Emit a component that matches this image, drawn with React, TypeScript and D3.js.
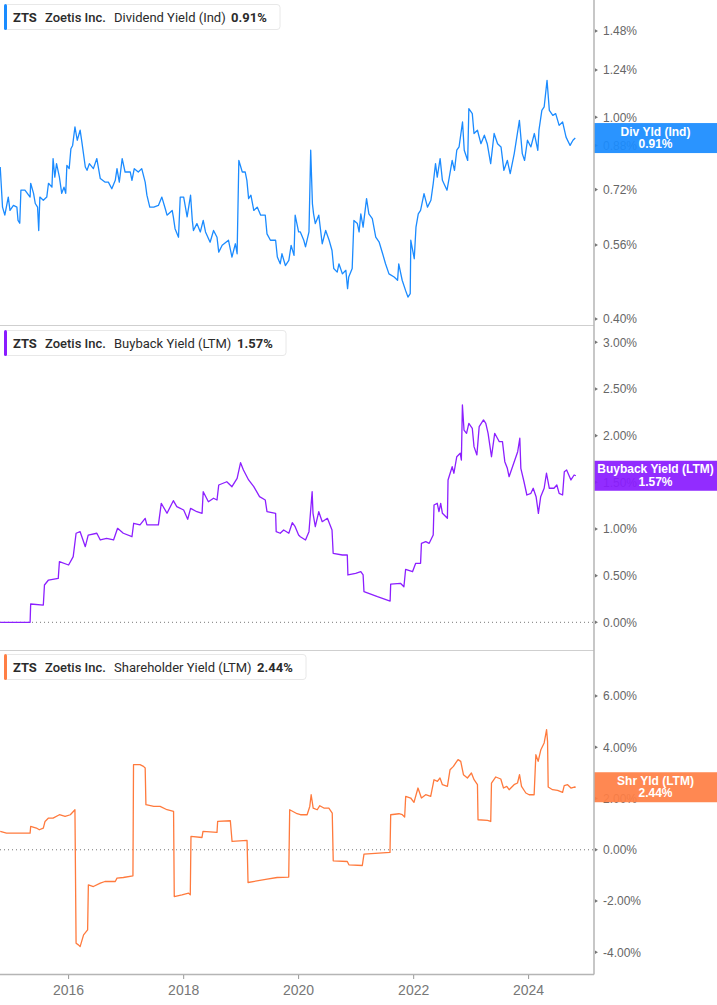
import React, { useEffect } from 'react';
import * as d3 from 'd3';

const W = 717;
const H = 1005;

// ---- data (decimal year, value in %) ----
const divData: [number, number][] = [
[2014.81,0.798],[2014.85,0.665],[2014.89,0.641],[2014.95,0.696],[2014.98,0.655],[2015.04,0.670],[2015.10,0.665],[2015.12,0.626],[2015.15,0.618],[2015.17,0.718],[2015.24,0.718],[2015.33,0.696],[2015.34,0.741],[2015.39,0.708],[2015.42,0.676],[2015.46,0.665],[2015.48,0.598],[2015.50,0.696],[2015.56,0.686],[2015.62,0.696],[2015.65,0.741],[2015.71,0.728],[2015.73,0.829],[2015.76,0.762],[2015.79,0.810],[2015.84,0.762],[2015.88,0.708],[2015.92,0.728],[2015.95,0.708],[2015.97,0.804],[2016.01,0.792],[2016.04,0.867],[2016.07,0.880],[2016.11,0.957],[2016.15,0.901],[2016.20,0.943],[2016.23,0.894],[2016.29,0.798],[2016.32,0.786],[2016.36,0.810],[2016.43,0.792],[2016.49,0.829],[2016.55,0.757],[2016.63,0.745],[2016.69,0.745],[2016.75,0.723],[2016.81,0.751],[2016.84,0.792],[2016.88,0.745],[2016.93,0.829],[2016.98,0.780],[2017.07,0.780],[2017.10,0.751],[2017.14,0.792],[2017.21,0.780],[2017.27,0.792],[2017.33,0.745],[2017.36,0.702],[2017.41,0.665],[2017.48,0.665],[2017.56,0.670],[2017.62,0.696],[2017.68,0.660],[2017.71,0.641],[2017.80,0.655],[2017.82,0.636],[2017.85,0.603],[2017.91,0.580],[2017.94,0.696],[2018.00,0.696],[2018.06,0.636],[2018.12,0.702],[2018.15,0.626],[2018.17,0.598],[2018.23,0.617],[2018.29,0.594],[2018.34,0.626],[2018.38,0.594],[2018.46,0.567],[2018.52,0.598],[2018.58,0.580],[2018.61,0.542],[2018.67,0.559],[2018.78,0.572],[2018.84,0.530],[2018.90,0.563],[2018.93,0.538],[2018.96,0.822],[2019.02,0.780],[2019.07,0.780],[2019.10,0.751],[2019.13,0.691],[2019.17,0.702],[2019.22,0.655],[2019.28,0.665],[2019.34,0.641],[2019.42,0.641],[2019.45,0.589],[2019.51,0.572],[2019.60,0.572],[2019.63,0.530],[2019.68,0.514],[2019.71,0.538],[2019.77,0.510],[2019.83,0.522],[2019.87,0.559],[2019.92,0.534],[2019.94,0.641],[2020.00,0.594],[2020.03,0.594],[2020.09,0.572],[2020.12,0.555],[2020.18,0.594],[2020.21,0.861],[2020.24,0.675],[2020.26,0.645],[2020.29,0.617],[2020.35,0.641],[2020.41,0.563],[2020.47,0.598],[2020.53,0.572],[2020.58,0.546],[2020.61,0.503],[2020.67,0.495],[2020.70,0.514],[2020.76,0.491],[2020.82,0.499],[2020.85,0.459],[2020.87,0.484],[2020.93,0.503],[2020.96,0.626],[2021.02,0.617],[2021.05,0.594],[2021.08,0.645],[2021.12,0.607],[2021.18,0.691],[2021.22,0.645],[2021.28,0.631],[2021.34,0.580],[2021.40,0.567],[2021.46,0.538],[2021.51,0.514],[2021.57,0.491],[2021.66,0.484],[2021.72,0.477],[2021.74,0.514],[2021.80,0.477],[2021.86,0.455],[2021.90,0.442],[2021.94,0.449],[2021.95,0.572],[2022.01,0.526],[2022.04,0.607],[2022.08,0.645],[2022.12,0.655],[2022.18,0.707],[2022.24,0.665],[2022.30,0.686],[2022.34,0.740],[2022.38,0.810],[2022.41,0.762],[2022.46,0.829],[2022.50,0.751],[2022.58,0.718],[2022.62,0.762],[2022.67,0.822],[2022.71,0.786],[2022.75,0.861],[2022.79,0.874],[2022.85,0.979],[2022.88,0.861],[2022.94,0.822],[2022.96,1.040],[2023.02,1.017],[2023.05,0.929],[2023.11,0.943],[2023.17,0.887],[2023.23,0.922],[2023.28,0.887],[2023.34,0.810],[2023.40,0.929],[2023.46,0.887],[2023.52,0.874],[2023.57,0.786],[2023.63,0.822],[2023.68,0.774],[2023.75,0.848],[2023.84,0.986],[2023.89,0.848],[2023.93,0.822],[2023.98,0.901],[2024.04,0.874],[2024.10,0.929],[2024.16,0.861],[2024.18,0.943],[2024.23,1.032],[2024.27,1.048],[2024.32,1.183],[2024.36,1.032],[2024.42,1.009],[2024.47,1.017],[2024.53,0.964],[2024.59,0.979],[2024.65,0.914],[2024.72,0.880],[2024.77,0.901],[2024.81,0.910]
];

const buybackData: [number, number][] = [
[2014.81,0],[2015.33,0],[2015.34,0.196],[2015.56,0.185],[2015.58,0.40],[2015.65,0.453],[2015.82,0.471],[2015.84,0.649],[2016.00,0.614],[2016.08,0.703],[2016.13,0.954],[2016.20,0.971],[2016.29,0.81],[2016.34,0.935],[2016.49,0.954],[2016.55,0.882],[2016.66,0.90],[2016.78,0.882],[2016.85,1.007],[2016.95,0.954],[2017.10,0.917],[2017.13,1.061],[2017.24,1.043],[2017.33,1.114],[2017.36,1.043],[2017.56,1.043],[2017.61,1.275],[2017.71,1.168],[2017.82,1.303],[2017.88,1.239],[2018.00,1.203],[2018.07,1.104],[2018.12,1.221],[2018.23,1.185],[2018.32,1.168],[2018.34,1.399],[2018.43,1.292],[2018.52,1.329],[2018.58,1.310],[2018.61,1.471],[2018.75,1.506],[2018.84,1.453],[2018.93,1.543],[2018.99,1.71],[2019.04,1.632],[2019.13,1.525],[2019.22,1.453],[2019.32,1.346],[2019.42,1.310],[2019.45,1.185],[2019.60,1.168],[2019.61,0.971],[2019.68,0.954],[2019.74,0.989],[2019.83,0.954],[2019.89,1.067],[2019.94,1.024],[2020.00,0.935],[2020.03,0.917],[2020.12,0.882],[2020.18,0.971],[2020.235,1.399],[2020.25,1.168],[2020.29,1.024],[2020.35,1.185],[2020.41,1.078],[2020.50,1.114],[2020.58,0.989],[2020.60,0.739],[2020.76,0.721],[2020.845,0.721],[2020.856,0.507],[2020.99,0.525],[2021.08,0.542],[2021.12,0.507],[2021.135,0.328],[2021.37,0.274],[2021.59,0.228],[2021.60,0.41],[2021.77,0.418],[2021.83,0.381],[2021.86,0.568],[2021.98,0.542],[2022.035,0.632],[2022.12,0.632],[2022.135,0.846],[2022.21,0.864],[2022.27,0.846],[2022.34,0.935],[2022.354,1.257],[2022.41,1.275],[2022.44,1.185],[2022.47,1.275],[2022.50,1.168],[2022.587,1.114],[2022.598,1.525],[2022.67,1.667],[2022.70,1.597],[2022.75,1.774],[2022.81,1.811],[2022.83,1.739],[2022.848,2.328],[2022.876,2.060],[2022.92,2.025],[2022.96,2.132],[2023.02,2.079],[2023.05,1.882],[2023.10,1.793],[2023.14,2.096],[2023.215,2.168],[2023.255,2.132],[2023.295,2.025],[2023.354,1.774],[2023.41,2.025],[2023.49,1.935],[2023.545,1.935],[2023.586,1.721],[2023.63,1.650],[2023.66,1.560],[2023.75,1.721],[2023.81,1.828],[2023.847,1.972],[2023.865,1.650],[2023.92,1.506],[2023.97,1.364],[2024.04,1.382],[2024.08,1.436],[2024.13,1.346],[2024.17,1.168],[2024.21,1.346],[2024.27,1.436],[2024.31,1.597],[2024.36,1.436],[2024.44,1.436],[2024.49,1.471],[2024.53,1.382],[2024.59,1.364],[2024.62,1.614],[2024.66,1.632],[2024.735,1.525],[2024.79,1.578],[2024.82,1.57]
];

const shareholderData: [number, number][] = [
[2014.81,0.715],[2014.92,0.652],[2015.33,0.652],[2015.34,0.910],[2015.44,0.848],[2015.49,0.781],[2015.56,0.848],[2015.59,1.105],[2015.65,1.238],[2015.73,1.238],[2015.84,1.367],[2015.94,1.301],[2016.03,1.367],[2016.11,1.5625],[2016.13,-3.645],[2016.17,-3.711],[2016.20,-3.777],[2016.26,-3.32],[2016.33,-3.125],[2016.343,-1.367],[2016.43,-1.434],[2016.55,-1.301],[2016.63,-1.238],[2016.81,-1.238],[2016.84,-1.105],[2016.95,-1.082],[2017.117,-1.016],[2017.127,3.32],[2017.24,3.32],[2017.30,3.254],[2017.33,3.191],[2017.343,1.758],[2017.48,1.691],[2017.59,1.691],[2017.71,1.5625],[2017.824,1.496],[2017.836,-1.824],[2017.97,-1.758],[2018.085,-1.691],[2018.115,-1.758],[2018.127,0.520],[2018.319,0.48],[2018.336,0.715],[2018.58,0.676],[2018.591,1.105],[2018.812,1.133],[2018.842,0.324],[2019.103,0.363],[2019.12,-1.277],[2019.452,-1.145],[2019.626,-1.082],[2019.828,-1.066],[2019.845,1.5625],[2019.974,1.406],[2020.032,1.367],[2020.148,1.367],[2020.194,1.691],[2020.218,2.148],[2020.253,1.629],[2020.323,1.5625],[2020.368,1.719],[2020.438,1.629],[2020.525,1.629],[2020.584,1.434],[2020.601,-0.43],[2020.845,-0.457],[2020.873,-0.586],[2021.106,-0.613],[2021.135,-0.168],[2021.588,-0.105],[2021.600,1.367],[2021.744,1.406],[2021.803,1.367],[2021.843,1.277],[2021.861,2.082],[2021.948,2.020],[2022.005,1.848],[2022.075,2.410],[2022.135,2.020],[2022.209,2.148],[2022.296,2.082],[2022.354,2.734],[2022.413,2.668],[2022.458,2.801],[2022.50,2.539],[2022.587,2.473],[2022.633,3.125],[2022.692,3.254],[2022.732,3.387],[2022.772,3.516],[2022.819,3.449],[2022.866,2.930],[2022.935,2.801],[2023.005,2.996],[2023.051,2.734],[2023.11,2.539],[2023.12,1.172],[2023.284,1.145],[2023.341,1.105],[2023.354,2.605],[2023.429,2.840],[2023.516,2.762],[2023.563,2.410],[2023.62,2.473],[2023.661,2.344],[2023.747,2.539],[2023.807,2.605],[2023.842,2.930],[2023.877,2.473],[2023.952,2.215],[2024.009,2.148],[2024.096,2.148],[2024.126,3.711],[2024.166,3.449],[2024.213,3.906],[2024.27,4.168],[2024.312,4.6875],[2024.329,4.23],[2024.34,2.449],[2024.416,2.344],[2024.503,2.316],[2024.59,2.238],[2024.618,2.5],[2024.677,2.539],[2024.735,2.41],[2024.793,2.449],[2024.817,2.44]
];

const divTicks = [0.40, 0.56, 0.72, 0.88, 1.00, 1.24, 1.48];
const buybackTicks = [0, 0.5, 1.0, 1.5, 2.0, 2.5, 3.0];
const shareholderTicks = [-4, -2, 0, 2, 4, 6];
const xTickYears = [2016, 2018, 2020, 2022, 2024];

const ticker = 'ZTS';
const company = 'Zoetis Inc.';
const metricNames = ['Dividend Yield (Ind)', 'Buyback Yield (LTM)', 'Shareholder Yield (LTM)'];
const shortNames = ['Div Yld (Ind)', 'Buyback Yield (LTM)', 'Shr Yld (LTM)'];
const lastValues = [0.91, 1.57, 2.44];

const COLORS = ['#1a8cff', '#8a1cff', '#ff7f45'];
const LINE_COLORS = ['#1b8bff', '#8c1fff', '#ff7a3d'];

const toDate = (y: number) => {
  const yr = Math.floor(y);
  const s = new Date(yr, 0, 1).getTime();
  const e = new Date(yr + 1, 0, 1).getTime();
  return new Date(s + (y - yr) * (e - s));
};

const AXIS_X = 594;

const x = d3.scaleTime()
  .domain([new Date(2016, 0, 1), new Date(2024, 0, 1)])
  .range([68.6, 528.6]);

const yDiv = d3.scaleLog().domain([0.40, 1.48]).range([319, 31]);
const yBuy = d3.scaleLinear().domain([0, 3]).range([622.3, 342.3]);
const ySh = d3.scaleLinear().domain([-4, 6]).range([952.3, 696]);

const fmt = (v: number) => v.toFixed(2) + '%';

type PanelProps = {
  idx: number;
  data: [number, number][];
  y: any;
  ticks: number[];
  legendY: number;
  legendW: number;
  zeroLine: boolean;
};

const Panel = ({ idx, data, y, ticks, legendY, legendW, zeroLine }: PanelProps) => {
  const line = d3.line<[number, number]>()
    .x(d => x(toDate(d[0])))
    .y(d => y(d[1]));
  const last = lastValues[idx];
  const cy = y(last);
  const color = COLORS[idx];
  const valueX = [231, 237, 257][idx];
  return (
    <g>
      {zeroLine && (
        <line x1={0} x2={AXIS_X} y1={y(0)} y2={y(0)} stroke="#777" strokeWidth={1}
          strokeDasharray="1,3" />
      )}
      {/* tick labels */}
      {ticks.map(t => (
        <g key={t}>
          <path d={`M${AXIS_X + 1},${y(t) - 1.8}L${AXIS_X + 4},${y(t)}L${AXIS_X + 1},${y(t) + 1.8}Z`} fill="#777" />
          <text x={603} y={y(t)} dy="0.36em" fontSize={12} fill="#666"
            fontFamily="'Liberation Sans', Arial, sans-serif">{fmt(t)}</text>
        </g>
      ))}
      <path d={line(data) || ''} fill="none" stroke={LINE_COLORS[idx]} strokeWidth={1.3}
        strokeLinejoin="round" />
      {/* legend */}
      <g>
        <rect x={4.5} y={legendY + 0.5} width={legendW} height={25} rx={3} fill="#fff" stroke="#e8e8e8" />
        <rect x={4} y={legendY} width={3} height={26} rx={1.5} fill={color} />
        <g fontFamily="Roboto, 'Liberation Sans', sans-serif" fontSize={13} fill="#2b2b2b">
          <text x={13} y={legendY + 17.5} fontWeight={700}>{ticker}</text>
          <text x={45} y={legendY + 17.5} fontWeight={500}>{company}</text>
          <text x={114} y={legendY + 17.5}>{metricNames[idx]}</text>
          <text x={valueX} y={legendY + 17.5} fontWeight={700}>{fmt(last)}</text>
        </g>
      </g>
      {/* end label */}
      <g>
        <rect x={AXIS_X} y={cy - 15} width={W - AXIS_X} height={30} fill={color} fillOpacity={0.93} />
        <g fontFamily="'Liberation Sans', Arial, sans-serif" fontSize={12} fill="#fff" textAnchor="middle" fontWeight={600}>
          <text x={655.5} y={cy - 2.5}>{shortNames[idx]}</text>
          <text x={655.5} y={cy + 10}>{fmt(last)}</text>
        </g>
      </g>
    </g>
  );
};

export default function App() {
  useEffect(() => {
    document.body.style.margin = '0';
  }, []);
  return (
    <svg width={W} height={H} style={{ display: 'block', position: 'absolute', left: 0, top: 0, background: '#fff' }}>
      <rect x={0} y={0} width={W} height={H} fill="#fff" />
      {/* separators */}
      <line x1={0} x2={AXIS_X} y1={325.5} y2={325.5} stroke="#cfcfcf" strokeWidth={1} />
      <line x1={0} x2={AXIS_X} y1={650.5} y2={650.5} stroke="#cfcfcf" strokeWidth={1} />
      <Panel idx={0} data={divData} y={yDiv} ticks={divTicks} legendY={4} legendW={275.5} zeroLine={false} />
      <Panel idx={1} data={buybackData} y={yBuy} ticks={buybackTicks} legendY={330} legendW={281.5} zeroLine={true} />
      <Panel idx={2} data={shareholderData} y={ySh} ticks={shareholderTicks} legendY={654} legendW={301.5} zeroLine={true} />
      {/* axis frame */}
      <line x1={AXIS_X} x2={AXIS_X} y1={0} y2={974.5} stroke="#b5b5b5" strokeWidth={1.5} />
      <line x1={0} x2={AXIS_X} y1={974.5} y2={974.5} stroke="#b5b5b5" strokeWidth={1.5} />
      {xTickYears.map(yr => {
        const px = x(new Date(yr, 0, 1));
        return (
          <g key={yr}>
            <line x1={px} x2={px} y1={975} y2={979} stroke="#999" strokeWidth={1} />
            <text x={px} y={995} textAnchor="middle" fontSize={14} fill="#777"
              fontFamily="'Liberation Sans', Arial, sans-serif">{yr}</text>
          </g>
        );
      })}
    </svg>
  );
}
